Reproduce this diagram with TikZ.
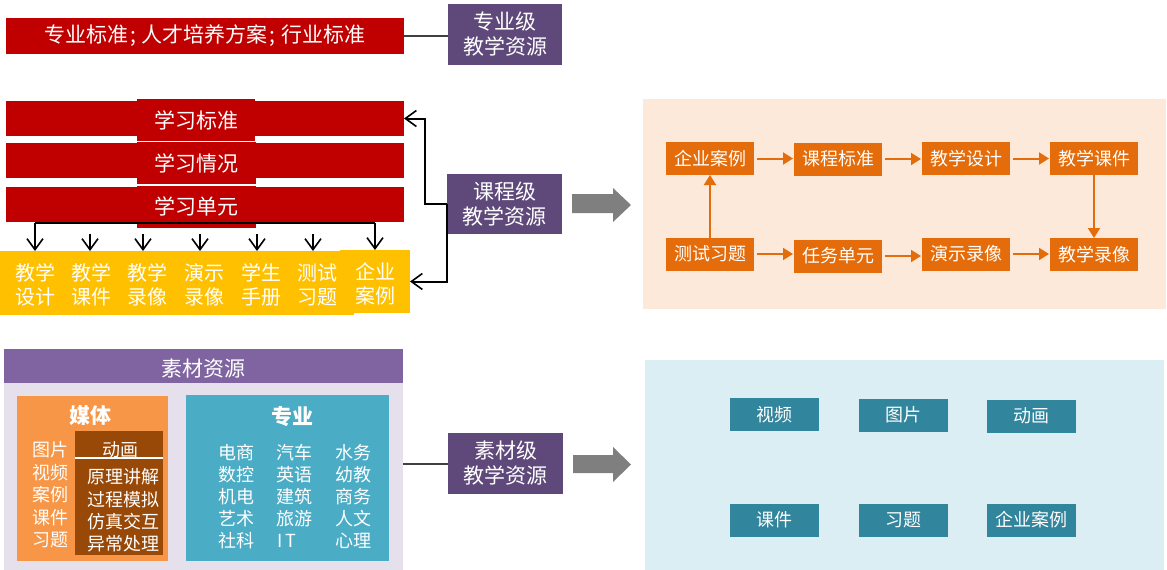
\documentclass[tikz,border=0pt]{standalone}
\usepackage{fontspec}
\setmainfont{Noto Sans CJK SC}
\usetikzlibrary{arrows.meta}
\definecolor{cRed}{HTML}{C00000}
\definecolor{cPurD}{HTML}{5F497A}
\definecolor{cYel}{HTML}{FFC000}
\definecolor{cGray}{HTML}{7F7F7F}
\definecolor{cLine}{HTML}{404040}
\definecolor{cPeach}{HTML}{FDE9D9}
\definecolor{cOra}{HTML}{E46C0A}
\definecolor{cPurH}{HTML}{8064A2}
\definecolor{cLav}{HTML}{E5E0EC}
\definecolor{cOraL}{HTML}{F79646}
\definecolor{cBrown}{HTML}{984807}
\definecolor{cBlue}{HTML}{4BACC6}
\definecolor{cBlueL}{HTML}{DAEEF3}
\definecolor{cTeal}{HTML}{31859C}
\begin{document}
\begin{tikzpicture}[x=1pt,y=-1pt,
  blk/.style={rectangle,inner sep=0pt,outer sep=0pt,text=white,align=center},
  fa/.style={font=\fontsize{21}{25}\selectfont},
  fb/.style={font=\fontsize{20}{24}\selectfont},
  fc/.style={font=\fontsize{18}{22}\selectfont},
  fbold/.style={font=\fontsize{21}{25}\selectfont\bfseries},
  txt/.style={inner sep=0pt,text=white,align=center},
  barrow/.style={draw=black,line width=2pt,-{Straight Barb[length=11pt,width=16pt,line width=1.6pt]}},
  bline/.style={draw=black,line width=2pt},
  oarrow/.style={draw=cOra,line width=2pt,-{Triangle[length=10pt,width=12pt]}},
  glink/.style={draw=cLine,line width=2pt},
  garrow/.style={fill=cGray}
]
\useasboundingbox (0,0) rectangle (1167,570);

% ---------- top: professional level ----------
\node[blk,fill=cRed,minimum width=398pt,minimum height=36pt,fa] (top) at (205,36)
  {专业标准\hspace{2pt};\hspace{6pt}人才培养方案\hspace{2pt};\hspace{6pt}行业标准};
\node[blk,fill=cPurD,minimum width=114pt,minimum height=61pt,fa] (zyj) at (505,34.5) {专业级\\教学资源};
\draw[glink] (top.east) -- (zyj.west |- top.east);

% ---------- course level ----------
\node[blk,fill=cRed,minimum width=398pt,minimum height=35pt] (bar1) at (205,118.5) {};
\node[blk,fill=cRed,minimum width=398pt,minimum height=35pt] (bar2) at (205,160.5) {};
\node[blk,fill=cRed,minimum width=398pt,minimum height=35pt] (bar3) at (205,204.5) {};
\node[blk,fill=cRed,minimum width=118pt,minimum height=42pt,fa] (tb1) at (196,120) {学习标准};
\node[blk,fill=cRed,minimum width=119pt,minimum height=42pt,fa] (tb2) at (196.5,163) {学习情况};
\node[blk,fill=cRed,minimum width=119pt,minimum height=42pt,fa] (tb3) at (196.5,206.5) {学习单元};

\node[blk,fill=cYel,minimum width=354pt,minimum height=64pt] (ymain) at (177,283) {};
\node[blk,fill=cYel,minimum width=70pt,minimum height=63pt] (qyal) at (375,281.5) {};
\node[txt,fb] (t1) at (35,285) {教学\\设计};
\node[txt,fb] (t2) at (91,285) {教学\\课件};
\node[txt,fb] (t3) at (147,285) {教学\\录像};
\node[txt,fb] (t4) at (204,285) {演示\\录像};
\node[txt,fb] (t5) at (261,285) {学生\\手册};
\node[txt,fb] (t6) at (317,285) {测试\\习题};
\node[txt,fb] (t7) at (375,283.5) {企业\\案例};

\coordinate (busL) at (35,223);
\coordinate (busR) at (375,223);
\draw[bline] (busL) -- (busR);
\draw[barrow] (busL) -- (busL |- ymain.north);
\draw[barrow] (busR) -- (busR |- qyal.north);
\coordinate (a2) at (90,234);
\coordinate (a3) at (143,234);
\coordinate (a4) at (200,234);
\coordinate (a5) at (257,234);
\coordinate (a6) at (313,234);
\foreach \a in {a2,a3,a4,a5,a6}{
  \draw[barrow] (\a) -- (\a |- ymain.north);
}

\node[blk,fill=cPurD,minimum width=115pt,minimum height=60pt,fa] (kcj) at (504.5,204) {课程级\\教学资源};
\coordinate (kbend) at (425,204);
\draw[barrow] (kcj.west) -- (kbend) |- (bar1.east);
\draw[barrow] (kcj.west) |- (qyal.east);

\fill[garrow] (572,194) -- (613,194) -- (613,188) -- (631,205) -- (613,222) -- (613,213) -- (572,213) -- cycle;

\node[blk,fill=cPeach,minimum width=523pt,minimum height=210pt] (peach) at (904.5,204) {};
\node[blk,fill=cOra,minimum width=88pt,minimum height=33pt,fc] (o1) at (710,158.5) {企业案例};
\node[blk,fill=cOra,minimum width=88pt,minimum height=33pt,fc] (o2) at (838,159) {课程标准};
\node[blk,fill=cOra,minimum width=88pt,minimum height=33pt,fc] (o3) at (966,158.5) {教学设计};
\node[blk,fill=cOra,minimum width=88pt,minimum height=33pt,fc] (o4) at (1094,158.5) {教学课件};
\node[blk,fill=cOra,minimum width=88pt,minimum height=33pt,fc] (p1) at (710,254) {测试习题};
\node[blk,fill=cOra,minimum width=88pt,minimum height=33pt,fc] (p2) at (838,256) {任务单元};
\node[blk,fill=cOra,minimum width=88pt,minimum height=33pt,fc] (p3) at (966,254) {演示录像};
\node[blk,fill=cOra,minimum width=88pt,minimum height=33pt,fc] (p4) at (1094,254.5) {教学录像};
\draw[oarrow] ([xshift=3pt]o1.east) -- ([xshift=-1pt]o2.west |- o1.east);
\draw[oarrow] ([xshift=3pt]o2.east) -- ([xshift=-1pt]o3.west |- o2.east);
\draw[oarrow] ([xshift=3pt]o3.east) -- ([xshift=-1pt]o4.west |- o3.east);
\draw[oarrow] ([xshift=3pt]p1.east) -- ([xshift=-1pt]p2.west |- p1.east);
\draw[oarrow] ([xshift=3pt]p2.east) -- ([xshift=-1pt]p3.west |- p2.east);
\draw[oarrow] ([xshift=3pt]p3.east) -- ([xshift=-1pt]p4.west |- p3.east);
\draw[oarrow] (p1.north) -- (o1.south);
\draw[oarrow] (o4.south) -- (p4.north);

% ---------- material level ----------
\node[blk,fill=cLav,minimum width=399pt,minimum height=187pt] (lav) at (203.5,476.5) {};
\node[blk,fill=cPurH,minimum width=399pt,minimum height=34pt] (hdr) at (203.5,366) {};
\node[txt,fa] (hdrt) at (203.5,369) {素材资源};

\node[blk,fill=cOraL,minimum width=151pt,minimum height=165pt] (mt) at (92.5,478.5) {};
\node[txt,fbold] (mtt) at (90,416) {媒体};
\node[blk,fill=cBrown,minimum width=88pt,minimum height=124pt] (dh) at (119,493) {};
\draw[white,line width=1.5pt] (dh.west |- 0,458) -- (dh.east |- 0,458);
\node[txt,fc] (dht) at (120,450) {动画};
\node[txt,fc] (d1) at (123,477) {原理讲解};
\node[txt,fc] (d2) at (123,499.5) {过程模拟};
\node[txt,fc] (d3) at (123,522) {仿真交互};
\node[txt,fc] (d4) at (123,544) {异常处理};
\node[txt,fc] (m1) at (50,450) {图片};
\node[txt,fc] (m2) at (50,472.5) {视频};
\node[txt,fc] (m3) at (50,495) {案例};
\node[txt,fc] (m4) at (50,517.5) {课件};
\node[txt,fc] (m5) at (50,540) {习题};

\node[blk,fill=cBlue,minimum width=203pt,minimum height=166pt] (zy) at (287.5,478) {};
\node[txt,fbold] (zyt) at (292,417) {专业};
\node[txt,fc] (z11) at (236,453) {电商};
\node[txt,fc] (z12) at (294,453) {汽车};
\node[txt,fc] (z13) at (353,453) {水务};
\node[txt,fc] (z21) at (236,475) {数控};
\node[txt,fc] (z22) at (294,475) {英语};
\node[txt,fc] (z23) at (353,475) {幼教};
\node[txt,fc] (z31) at (236,497) {机电};
\node[txt,fc] (z32) at (294,497) {建筑};
\node[txt,fc] (z33) at (353,497) {商务};
\node[txt,fc] (z41) at (236,519) {艺术};
\node[txt,fc] (z42) at (294,519) {旅游};
\node[txt,fc] (z43) at (353,519) {人文};
\node[txt,fc] (z51) at (236,541) {社科};
\node[txt,fc,anchor=west] (z52) at (277,541) {I\hspace{3pt}T};
\node[txt,fc] (z53) at (353,541) {心理};

\node[blk,fill=cPurD,minimum width=115pt,minimum height=61pt,fa] (scj) at (505.5,463.5) {素材级\\教学资源};
\draw[glink] (lav.east |- scj.west) -- (scj.west);

\fill[garrow] (573,455) -- (613,455) -- (613,447) -- (631,464.5) -- (613,482) -- (613,473) -- (573,473) -- cycle;

\node[blk,fill=cBlueL,minimum width=519pt,minimum height=210pt] (bl) at (904,465) {};
\node[blk,fill=cTeal,minimum width=89pt,minimum height=33pt,fc] (s1) at (774.5,414.5) {视频};
\node[blk,fill=cTeal,minimum width=89pt,minimum height=33pt,fc] (s2) at (903,415) {图片};
\node[blk,fill=cTeal,minimum width=89pt,minimum height=33pt,fc] (s3) at (1031.5,416) {动画};
\node[blk,fill=cTeal,minimum width=89pt,minimum height=33pt,fc] (s4) at (774.5,520) {课件};
\node[blk,fill=cTeal,minimum width=89pt,minimum height=33pt,fc] (s5) at (903,520) {习题};
\node[blk,fill=cTeal,minimum width=89pt,minimum height=33pt,fc] (s6) at (1031.5,520) {企业案例};
\end{tikzpicture}
\end{document}
